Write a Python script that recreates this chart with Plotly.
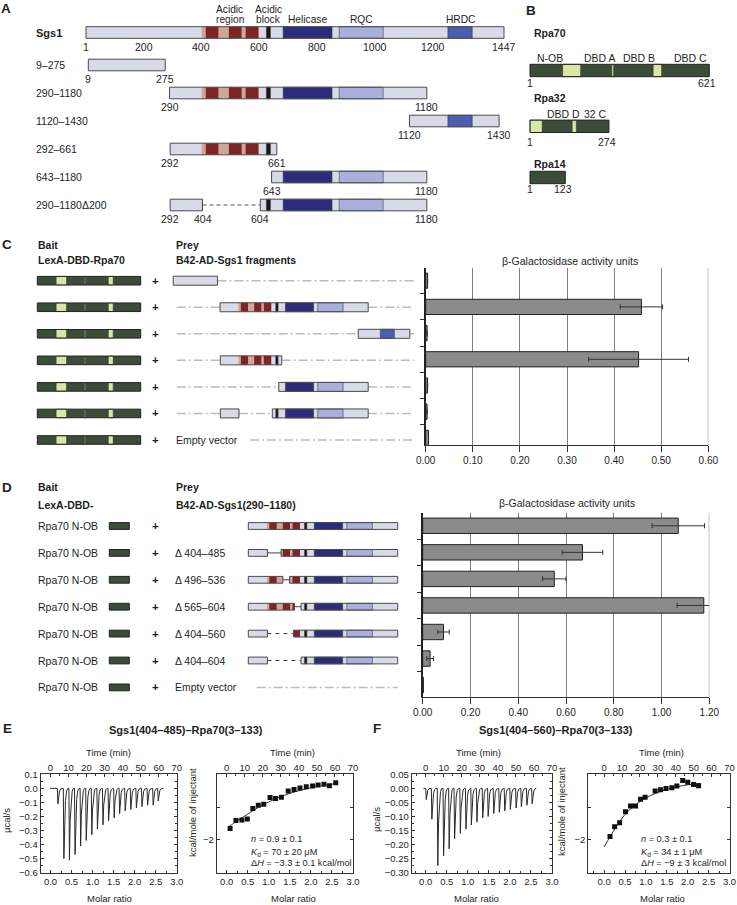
import plotly.graph_objects as go

# ======================= DATA =======================
# Panel A - Sgs1 domain map (residue numbers)
sgs1_length = 1447
sgs1_ticks = [1, 200, 400, 600, 800, 1000, 1200, 1447]
sgs1_dom_start = [401, 415, 460, 495, 540, 553, 625, 683, 877, 1253]
sgs1_dom_end = [415, 460, 495, 540, 553, 598, 639, 852, 1029, 1337]
sgs1_dom_kind = ["tan", "acid", "tan", "acid", "tan", "acid", "block", "helicase", "rqc", "hrdc"]
sgs1_label_text = ["Acidic<br>region", "Acidic<br>block", "Helicase", "RQC", "HRDC"]
sgs1_label_res = [498, 634, 768, 953, 1295]

frag_names = ["9–275", "290–1180", "1120–1430", "292–661", "643–1180", "290–1180Δ200"]
frag_start = [9, 290, 1120, 292, 643, 292]
frag_end = [275, 1180, 1430, 661, 1180, 1180]
frag_del_start = [None, None, None, None, None, 404]
frag_del_end = [None, None, None, None, None, 604]

# Panel B - RPA subunits
rpa_names = ["Rpa70", "Rpa32", "Rpa14"]
rpa_length = [621, 274, 123]
rpa_light_start = [[114, 284, 427], [1, 147], []]
rpa_light_end = [[176, 290, 456], [43, 161], []]
rpa_dom_text = [["N-OB", "DBD A", "DBD B", "DBD C"], ["DBD D", "32 C"], []]
rpa_dom_res = [[70, 243, 378, 555], [116, 229], []]
rpa70_nob_end = 121

# Panel C - two-hybrid, Rpa70 vs Sgs1 fragments
c_activity = [0.004, 0.458, 0.003, 0.452, 0.004, 0.003, 0.006]
c_error = [0.0, 0.045, 0.0, 0.106, 0.0, 0.0, 0.0]

# Panel D - Rpa70 N-OB vs Sgs1(290-1180) deletions
d_prey_start, d_prey_end = 290, 1180
d_labels = ["", "Δ 404–485", "Δ 496–536", "Δ 565–604", "Δ 404–560", "Δ 404–604", "Empty vector"]
d_del_start = [None, 404, 496, 565, 404, 404, None]
d_del_end = [None, 485, 536, 604, 560, 604, None]
d_del_style = [None, "solid", "solid", "solid", "dash", "dash", None]
d_activity = [1.07, 0.669, 0.551, 1.177, 0.087, 0.031, 0.003]
d_error = [0.11, 0.085, 0.049, 0.112, 0.024, 0.014, 0.0]

# Panel E - ITC Sgs1(404-485)-Rpa70(3-133)
e_inj_time = [4.0, 7.3, 10.4, 13.5, 16.6, 19.7, 22.8, 25.9, 29.0, 32.1, 35.2, 38.2, 41.3, 44.4, 47.5, 50.6, 53.7, 56.8, 59.6]
e_inj_peak = [-0.11, -0.50, -0.51, -0.47, -0.41, -0.37, -0.33, -0.29, -0.26, -0.23, -0.21, -0.18, -0.16, -0.15, -0.14, -0.13, -0.12, -0.12, -0.09]
e_ratio = [0.08, 0.22, 0.36, 0.49, 0.62, 0.75, 0.88, 1.03, 1.16, 1.30, 1.46, 1.60, 1.74, 1.89, 2.04, 2.17, 2.31, 2.44, 2.59]
e_heat = [-1.65, -1.41, -1.39, -1.36, -1.04, -0.94, -0.91, -0.71, -0.74, -0.70, -0.51, -0.46, -0.42, -0.38, -0.36, -0.33, -0.30, -0.35, -0.26]
e_fit_ratio = [0.05, 0.25, 0.5, 0.75, 1.0, 1.25, 1.5, 1.75, 2.0, 2.25, 2.5, 2.62]
e_fit_heat = [-1.60, -1.42, -1.21, -1.01, -0.84, -0.70, -0.58, -0.49, -0.41, -0.35, -0.30, -0.28]
e_stats = ["<i>n</i> = 0.9 ± 0.1", "<i>K</i><sub>d</sub> = 70 ± 20 μM", "Δ<i>H</i> = −3.3 ± 0.1 kcal/mol"]

# Panel F - ITC Sgs1(404-560)-Rpa70(3-133)
f_inj_time = [0.2, 3.3, 6.6, 9.8, 12.9, 15.9, 19.1, 22.2, 25.2, 28.3, 31.5, 34.5, 37.6, 40.7, 43.7, 46.8, 50.0, 52.9, 56.0, 58.9]
f_inj_peak = [-0.04, -0.11, -0.275, -0.24, -0.215, -0.18, -0.16, -0.145, -0.13, -0.12, -0.105, -0.10, -0.09, -0.085, -0.08, -0.075, -0.07, -0.065, -0.06, -0.055]
f_ratio = [0.14, 0.25, 0.37, 0.51, 0.63, 0.75, 0.87, 0.98, 1.22, 1.35, 1.48, 1.62, 1.74, 1.88, 2.00, 2.14, 2.26]
f_heat = [-1.90, -1.60, -1.48, -1.14, -0.97, -0.97, -0.76, -0.70, -0.51, -0.47, -0.43, -0.41, -0.36, -0.19, -0.24, -0.31, -0.35]
f_fit_ratio = [0.0, 0.15, 0.3, 0.5, 0.75, 1.0, 1.25, 1.5, 1.75, 2.0, 2.3]
f_fit_heat = [-2.21, -1.88, -1.58, -1.22, -0.93, -0.72, -0.57, -0.46, -0.38, -0.32, -0.28]
f_stats = ["<i>n</i> = 0.3 ± 0.1", "<i>K</i><sub>d</sub> = 34 ± 1 μM", "Δ<i>H</i> = −9 ± 3 kcal/mol"]

# ======================= STYLE / LAYOUT =======================
W, H = 737, 905
FONT = "Liberation Sans, Arial, Helvetica, sans-serif"
TXT = "#1e1e1e"
LIGHT = "#d8dbe7"
OUTLINE = "#4a4a4a"
DOM_FILL = {"tan": "#d3a595", "acid": "#7c2426", "block": "#1e1414",
            "helicase": "#2b2d7c", "rqc": "#aab0de", "hrdc": "#4c5eb0"}
DOM_LW = {"tan": 0, "acid": 0, "block": 0.5, "helicase": 0.6, "rqc": 0.6, "hrdc": 0.6}
GREEN = "#3b4d39"
LGREEN = "#d8e7a7"
VEC_COLOR = "#bcbcbc"
VEC_DASH = "9px,3px,2px,3px"
BAR_FILL = "#8b8b8b"
GRID = "#7f7f7f"

fig = go.Figure()
shapes, ann, axes = [], [], {}


def span(p0, p1, pa, va, pb, vb):
    k = (vb - va) / (pb - pa)
    return [va + (p0 - pa) * k, va + (p1 - pa) * k]


def xd(p0, p1):
    return [p0 / W, p1 / W]


def yd(top, bottom):
    return [1 - bottom / H, 1 - top / H]


def axname(letter, n):
    return f"{letter}axis" if n == 1 else f"{letter}axis{n}"


def ref(letter, n):
    return letter if n == 1 else f"{letter}{n}"


def empty_trace(xr, yr):
    fig.add_trace(go.Scatter(x=[], y=[], xaxis=xr, yaxis=yr, showlegend=False, hoverinfo="skip"))


def diagram_axes(n, xpx, ypx, xmap):
    axes[axname("x", n)] = dict(visible=False, fixedrange=True, domain=xd(*xpx),
                                range=span(xpx[0], xpx[1], *xmap), anchor=ref("y", n))
    axes[axname("y", n)] = dict(visible=False, fixedrange=True, domain=yd(*ypx),
                                range=[ypx[1], ypx[0]], anchor=ref("x", n))
    empty_trace(ref("x", n), ref("y", n))
    return ref("x", n), ref("y", n)


def text(s, x, y, xref="paper", yref="paper", size=10.5, bold=False, xanchor="center",
         yanchor="middle", angle=0, color=TXT):
    if xref == "paper":
        x = x / W
    if yref == "paper":
        y = 1 - y / H
    ann.append(dict(text=f"<b>{s}</b>" if bold else s, x=x, y=y, xref=xref, yref=yref,
                    showarrow=False, xanchor=xanchor, yanchor=yanchor, textangle=angle,
                    font=dict(family=FONT, size=size, color=color), borderpad=0))


def rect(xr, yr, x0, x1, y0, y1, fill, line=None, lw=0):
    shapes.append(dict(type="rect", xref=xr, yref=yr, x0=x0, x1=x1, y0=y0, y1=y1,
                       fillcolor=fill, layer="above",
                       line=dict(color=line or "rgba(0,0,0,0)", width=lw)))


def seg(xr, yr, x0, x1, y, color, width, dash="solid"):
    shapes.append(dict(type="line", xref=xr, yref=yr, x0=x0, x1=x1, y0=y, y1=y,
                       layer="above", line=dict(color=color, width=width, dash=dash)))


def sgs1_construct(xr, yr, yc, hh, start, end, dstart=None, dend=None,
                   dcolor="#444", ddash="solid", dwidth=1.0, lw=1.0):
    boxes = [(start, end)] if dstart is None else [(start, dstart), (dend, end)]
    if dstart is not None:
        seg(xr, yr, dstart, dend, yc, dcolor, dwidth, ddash)
    for s, e in boxes:
        rect(xr, yr, s, e, yc - hh, yc + hh, LIGHT)
        for ds, de, kind in zip(sgs1_dom_start, sgs1_dom_end, sgs1_dom_kind):
            a, b = max(ds, s), min(de, e)
            if b > a:
                rect(xr, yr, a, b, yc - hh, yc + hh, DOM_FILL[kind],
                     "#3a3a3a" if DOM_LW[kind] else None, DOM_LW[kind])
        rect(xr, yr, s, e, yc - hh, yc + hh, "rgba(0,0,0,0)", OUTLINE, lw)


def rpa_construct(xr, yr, yc, hh, length, lstart, lend, lw=1.0):
    rect(xr, yr, 1, length, yc - hh, yc + hh, GREEN)
    for a, b in zip(lstart, lend):
        rect(xr, yr, a, b, yc - hh, yc + hh, LGREEN, "#2a3528", 0.5)
    rect(xr, yr, 1, length, yc - hh, yc + hh, "rgba(0,0,0,0)", "#222", lw)


# ---------------- panel letters ----------------
for letter, (px, py) in zip("ABCDEF", [(6, 9), (531, 11), (6.5, 244), (7, 487), (7, 728), (377, 728)]):
    text(letter, px, py, size=13.5, bold=True)

# ---------------- Panel A ----------------
xa, ya = diagram_axes(1, (0, 520), (0, 232), (86, 1, 504, 1447))
A_ROW0, A_ROW1, A_STEP, A_HH, A_NUM_DY = 32.5, 65, 28, 5.8, 14
A_LABEL_Y, A_LABEL_DY, A_NAME_X = 19, 9.3, 35
a_rows = [A_ROW0] + [A_ROW1 + A_STEP * i for i in range(len(frag_names))]

text("Sgs1", A_NAME_X, a_rows[0], yref=ya, size=11, bold=True, xanchor="left")
sgs1_construct(xa, ya, a_rows[0], A_HH, 1, sgs1_length)
for t in sgs1_ticks:
    text(str(t), t, a_rows[0] + A_NUM_DY, xref=xa, yref=ya)
for lab, r in zip(sgs1_label_text, sgs1_label_res):
    for j, line in enumerate(reversed(lab.split("<br>"))):
        text(line, r, A_LABEL_Y - A_LABEL_DY * j, xref=xa, yref=ya, size=10.2)

for i, name in enumerate(frag_names):
    yc = a_rows[i + 1]
    text(name, A_NAME_X, yc, yref=ya, xanchor="left")
    sgs1_construct(xa, ya, yc, A_HH, frag_start[i], frag_end[i], frag_del_start[i],
                   frag_del_end[i], dcolor="#555", ddash="4px,3px", dwidth=1.2)
    nums = [frag_start[i], frag_end[i]]
    if frag_del_start[i] is not None:
        nums += [frag_del_start[i], frag_del_end[i]]
    for v in nums:
        text(str(v), v, yc + A_NUM_DY, xref=xa, yref=ya)

# ---------------- Panel B ----------------
xb, yb = diagram_axes(2, (520, 737), (0, 200), (530, 1, 709.3, 621))
B_ROW = [70.5, 126.3, 177.5]
B_NAME_DY = [37.5, 28, 13.5]
B_NUM_DY = [12.8, 15.4, 11.5]
B_DOM_DY, B_HH, B_NAME_X = 12.5, 6.2, 533
for i, name in enumerate(rpa_names):
    yc = B_ROW[i]
    text(name, B_NAME_X, yc - B_NAME_DY[i], yref=yb, bold=True, xanchor="left")
    rpa_construct(xb, yb, yc, B_HH, rpa_length[i], rpa_light_start[i], rpa_light_end[i])
    text("1", 1, yc + B_NUM_DY[i], xref=xb, yref=yb)
    text(str(rpa_length[i]), rpa_length[i] - 8, yc + B_NUM_DY[i], xref=xb, yref=yb)
    for t, r in zip(rpa_dom_text[i], rpa_dom_res[i]):
        text(t, r, yc - B_DOM_DY, xref=xb, yref=yb)

# ---------------- Panel C ----------------
x3, y3 = diagram_axes(3, (20, 160), (265, 452), (37.3, 1, 140.7, 621))
x4, y4 = diagram_axes(4, (165, 420), (265, 452), (220, 290, 368.2, 1180))
C_ROW0, C_STEP, C_BAIT_HH, C_PREY_HH = 280.7, 26.55, 4.3, 4.5
VEC_START, VEC_END, C_EMPTY_START = 30, 1455, 470
HDR_X1, HDR_X2, PLUS_X = 36.7, 175, 155

text("Bait", HDR_X1, 245, bold=True, xanchor="left")
text("LexA-DBD-Rpa70", HDR_X1, 260, bold=True, xanchor="left")
text("Prey", HDR_X2, 245, bold=True, xanchor="left")
text("B42-AD-Sgs1 fragments", HDR_X2, 260, bold=True, xanchor="left")
for i in range(len(c_activity)):
    yc = C_ROW0 + C_STEP * i
    rpa_construct(x3, y3, yc, C_BAIT_HH, rpa_length[0], rpa_light_start[0], rpa_light_end[0])
    text("+", PLUS_X, yc, yref=y3, size=11.5, bold=True)
    if i < len(frag_names):
        s, e = frag_start[i], frag_end[i]
        if s > VEC_START:
            seg(x4, y4, VEC_START, s, yc, VEC_COLOR, 1.5, VEC_DASH)
        if e < VEC_END:
            seg(x4, y4, e, VEC_END, yc, VEC_COLOR, 1.5, VEC_DASH)
        sgs1_construct(x4, y4, yc, C_PREY_HH, s, e, frag_del_start[i], frag_del_end[i],
                       dcolor=VEC_COLOR, ddash=VEC_DASH, dwidth=1.5)
    else:
        text("Empty vector", HDR_X2, yc, yref=y4, xanchor="left")
        seg(x4, y4, C_EMPTY_START, VEC_END, yc, VEC_COLOR, 1.5, VEC_DASH)

text("β-Galactosidase activity units", 570, 261)


def bar_axes(n, xpx, ypx, xmax, dtick, yrange):
    tf = dict(family=FONT, size=10, color=TXT)
    axes[axname("x", n)] = dict(domain=xd(*xpx), range=[0, xmax], dtick=dtick, tick0=0,
                                tickformat=".2f", showgrid=True, gridcolor=GRID, gridwidth=1,
                                showline=True, linecolor="#333", linewidth=1, ticks="outside",
                                ticklen=6, tickcolor="#333", tickfont=tf, zeroline=False,
                                anchor=ref("y", n), fixedrange=True)
    axes[axname("y", n)] = dict(domain=yd(*ypx), range=yrange,
                                tickvals=[k + 0.5 for k in range(6)], ticks="outside",
                                ticklen=4, tickcolor="#333", showticklabels=False,
                                showline=True, linecolor="#222", linewidth=1.5,
                                showgrid=False, zeroline=False, anchor=ref("x", n),
                                fixedrange=True)
    shapes.append(dict(type="line", xref=ref("x", n), yref=ref("y", n) + " domain",
                       x0=xmax, x1=xmax, y0=0, y1=1, line=dict(color=GRID, width=1)))


def bars(n, vals, errs):
    fig.add_trace(go.Bar(x=vals, y=list(range(len(vals))), orientation="h", width=0.58,
                         marker=dict(color=BAR_FILL, line=dict(color="#222", width=1)),
                         error_x=dict(type="data", array=errs, color="#333", thickness=1, width=2.5),
                         xaxis=ref("x", n), yaxis=ref("y", n), showlegend=False, hoverinfo="skip"))


bar_axes(5, (425.7, 708.3), (268.3, 445), 0.6, 0.1, [6.271, -0.473])
bars(5, c_activity, c_error)

# ---------------- Panel D ----------------
x6, y6 = diagram_axes(6, (100, 140), (498, 700), (109.3, 1, 212.7, 621))
x7, y7 = diagram_axes(7, (240, 405), (498, 700), (248.3, 290, 397.7, 1180))
D_ROW0, D_STEP, D_HH, D_EMPTY_START = 526, 26.9, 3.4, 340

text("Bait", HDR_X1, 487, bold=True, xanchor="left")
text("LexA-DBD-", HDR_X1, 505, bold=True, xanchor="left")
text("Prey", HDR_X2, 487, bold=True, xanchor="left")
text("B42-AD-Sgs1(290–1180)", HDR_X2, 505, bold=True, xanchor="left")
for i, lab in enumerate(d_labels):
    yc = D_ROW0 + D_STEP * i
    text("Rpa70 N-OB", HDR_X1, yc, yref=y6, xanchor="left")
    rpa_construct(x6, y6, yc, D_HH, rpa70_nob_end, [], [])
    text("+", PLUS_X, yc, yref=y6, size=11.5, bold=True)
    if lab:
        text(lab, HDR_X2 - 1, yc, yref=y7, xanchor="left")
    if d_del_style[i] is None and lab:
        seg(x7, y7, D_EMPTY_START, d_prey_end, yc, VEC_COLOR, 1.5, VEC_DASH)
    else:
        sgs1_construct(x7, y7, yc, D_HH, d_prey_start, d_prey_end, d_del_start[i], d_del_end[i],
                       dcolor="#444", ddash="solid" if d_del_style[i] == "solid" else "4px,4px",
                       dwidth=1.0)

text("β-Galactosidase activity units", 566.7, 503.3)
bar_axes(8, (422.7, 709.3), (512.7, 696.7), 1.2, 0.2, [6.437, -0.493])
bars(8, d_activity, d_error)

# ---------------- Panels E / F (ITC) ----------------
PEAK_DT = [-0.2, 0.1, 0.5, 1.0, 1.6, 2.3]
PEAK_FR = [0.0, 1.0, 0.45, 0.17, 0.04, 0.0]
ITC_TOP, ITC_BOT = 774.3, 872.7
TF = dict(family=FONT, size=9.5, color=TXT)


def itc_axes(n, xpx, xmin, yrange, ydtick=None, ylabelled=None):
    common = dict(showline=True, linecolor="#333", linewidth=1, ticks="inside", ticklen=3,
                  tickcolor="#333", tickfont=TF, zeroline=False, showgrid=False, fixedrange=True)
    axes[axname("x", n)] = dict(common, domain=xd(*xpx), range=[xmin, 3.0],
                                tickvals=[0, 0.5, 1, 1.5, 2, 2.5, 3],
                                tickformat=".1f", mirror=True, anchor=ref("y", n), side="bottom",
                                minor=dict(ticks="inside", ticklen=2, dtick=0.25, tick0=0, tickcolor="#333"))
    axes[axname("x", n + 1)] = dict(common, showline=False, domain=xd(*xpx), side="top",
                                    anchor=ref("y", n), range=[xmin * 70 / 3.0, 70], dtick=10, tick0=0,
                                    minor=dict(ticks="inside", ticklen=2, dtick=5, tick0=0, tickcolor="#333"))
    yax = dict(common, domain=yd(ITC_TOP, ITC_BOT), range=yrange, mirror="ticks", anchor=ref("x", n))
    if ydtick:
        yax.update(dtick=ydtick, tick0=0, tickformat=".2f" if ydtick < 0.1 else ".1f",
                   minor=dict(ticks="inside", ticklen=2, dtick=ydtick / 2, tick0=0, tickcolor="#333"))
    else:
        yax.update(tickvals=ylabelled, tickformat="d",
                   minor=dict(ticks="inside", ticklen=3, dtick=1, tick0=0, tickcolor="#333"))
    axes[axname("y", n)] = yax
    empty_trace(ref("x", n), ref("y", n))
    empty_trace(ref("x", n + 1), ref("y", n))


def thermogram(n, times, peaks, t0, t1):
    xs, ys = [t0], [0.0]
    for t, p in zip(times, peaks):
        for dt, fr in zip(PEAK_DT, PEAK_FR):
            xs.append(t + dt)
            ys.append(fr * p)
    xs.append(t1)
    ys.append(0.0)
    fig.add_trace(go.Scatter(x=xs, y=ys, mode="lines", line=dict(color="#2a2a2a", width=1),
                             xaxis=ref("x", n + 1), yaxis=ref("y", n), showlegend=False, hoverinfo="skip"))


def binding(n, rx, hy, fx, fy):
    fig.add_trace(go.Scatter(x=fx, y=fy, mode="lines", line=dict(color="#333", width=1, shape="spline"),
                             xaxis=ref("x", n), yaxis=ref("y", n), showlegend=False, hoverinfo="skip"))
    fig.add_trace(go.Scatter(x=rx, y=hy, mode="markers", marker=dict(symbol="square", size=5, color="#111"),
                             xaxis=ref("x", n), yaxis=ref("y", n), showlegend=False, hoverinfo="skip"))


# E
itc_axes(9, (40.7, 176.8), -0.233, [-0.6, 0.1], ydtick=0.1)
thermogram(9, e_inj_time, e_inj_peak, -0.3, 62.7)
itc_axes(11, (216.7, 353), -0.238, [-3, 0], ylabelled=[-2])
binding(11, e_ratio, e_heat, e_fit_ratio, e_fit_heat)
# F
itc_axes(13, (411.7, 552), -0.333, [-0.30, 0.05], ydtick=0.05)
thermogram(13, f_inj_time, f_inj_peak, -1.3, 61.1)
itc_axes(15, (588.3, 729.5), -0.38, [-3, 0], ylabelled=[-2])
binding(15, f_ratio, f_heat, f_fit_ratio, f_fit_heat)

text("Sgs1(404–485)–Rpa70(3–133)", 185.8, 730, size=11, bold=True)
text("Sgs1(404–560)–Rpa70(3–133)", 555.8, 730, size=11, bold=True)
for cx in [108.7, 292.2, 478.3, 661.7]:
    text("Time (min)", cx, 752, size=9.5)
for cx in [109, 293.3, 476.7, 662.5]:
    text("Molar ratio", cx, 898, size=9.5)
text("µcal/s", 6, 820, size=9.5, angle=-90)
text("µcal/s", 376, 820, size=9.5, angle=-90)
text("kcal/mole of injectant", 192, 812, size=9.5, angle=-90)
text("kcal/mole of injectant", 561, 812, size=9.5, angle=-90)

STAT_Y = [-1.98, -2.39, -2.71]
for n, stats, sx in [(11, e_stats, 0.55), (15, f_stats, 0.85)]:
    for s, yv in zip(stats, STAT_Y):
        text(s, sx, yv, xref=ref("x", n), yref=ref("y", n), size=9.2, xanchor="left")

fig.update_layout(width=W, height=H, margin=dict(l=0, r=0, t=0, b=0, autoexpand=False),
                  paper_bgcolor="white", plot_bgcolor="rgba(0,0,0,0)", showlegend=False,
                  font=dict(family=FONT, size=10.5, color=TXT),
                  shapes=shapes, annotations=ann, **axes)

fig.write_html("out.html", config={"displayModeBar": False},
               post_script="document.body.style.margin='0';document.body.style.overflow='hidden';")
